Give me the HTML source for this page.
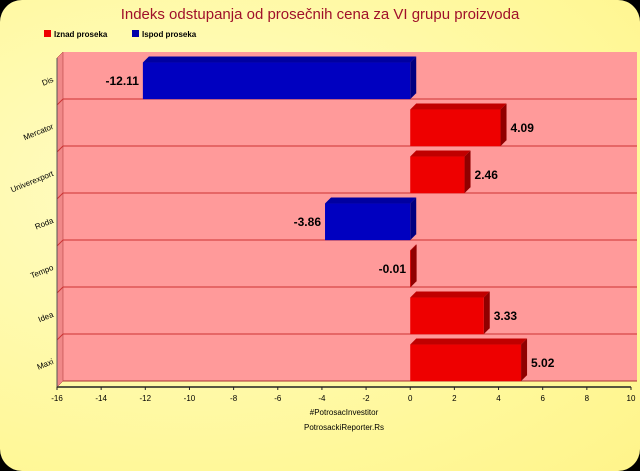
<!DOCTYPE html>
<html><head><meta charset="utf-8"><style>
html,body{margin:0;padding:0;background:#000;}
#wrap{position:relative;width:640px;height:471px;overflow:hidden;background:#000;}
#card{position:absolute;left:0;top:0;width:640px;height:471px;border-radius:22px;background:radial-gradient(ellipse at 30% 40%,#fffcc8,#fff89a 70%,#fff48a);}
text{font-family:"Comic Sans MS","Liberation Sans",sans-serif;}
</style></head><body>
<div id="wrap"><div id="card"></div>
<svg id="chart" width="640" height="471" style="position:absolute;left:0;top:0">
<text x="320" y="19" text-anchor="middle" font-size="15" fill="#a0102a">Indeks odstupanja od prosečnih cena za VI grupu proizvoda</text>
<g>
<rect x="44" y="30" width="7" height="7" fill="#e00"/>
<text x="54" y="37" font-size="8" font-weight="bold">Iznad proseka</text>
<rect x="132" y="30" width="7" height="7" fill="#00a"/>
<text x="142" y="37" font-size="8" font-weight="bold">Ispod proseka</text>
</g>
<g id="plot"></g>
<text x="344" y="415" text-anchor="middle" font-size="8">#PotrosacInvestitor</text>
<text x="344" y="430" text-anchor="middle" font-size="8">PotrosackiReporter.Rs</text>
</svg></div>
<script>
const categories=["Dis","Mercator","Univerexport","Roda","Tempo","Idea","Maxi"];
const values=[-12.11,4.09,2.46,-3.86,-0.01,3.33,5.02];
const ticks=[-16,-14,-12,-10,-8,-6,-4,-2,0,2,4,6,8,10];
const NS="http://www.w3.org/2000/svg";
const g=document.getElementById('plot');
const x0=57,x1=631,xmin=-16,xmax=10,yTop=52,yBot=381,d=6;
const X=v=>x0+(v-xmin)/(xmax-xmin)*(x1-x0);
const rowH=(yBot-yTop)/categories.length;
function mk(t,a){const e=document.createElementNS(NS,t);for(const k in a)e.setAttribute(k,a[k]);g.appendChild(e);return e;}
let e;
e=mk('rect',{x:x0+d,y:yTop,width:x1-x0,height:yBot-yTop,fill:'#ff9a9a'});


e=mk('polygon',{points:`${x0},${yTop+d} ${x0+d},${yTop} ${x0+d},${yBot} ${x0},${yBot+d}`,fill:'#f08888',stroke:'#a33','stroke-width':0.5});


for(let i=1;i<categories.length;i++){
 const y=yTop+i*rowH;
 e=mk('line',{x1:x0+d,y1:y,x2:x1+d,y2:y,stroke:'#c33','stroke-width':1});
 
 
 e=mk('line',{x1:x0,y1:y+d,x2:x0+d,y2:y,stroke:'#c33','stroke-width':1});
 
 
}
e=mk('line',{x1:x0+d,y1:yBot,x2:x1+d,y2:yBot,stroke:'#a33','stroke-width':1});


e=mk('line',{x1:x0,y1:yBot+d,x2:x1,y2:yBot+d,stroke:'#222','stroke-width':1.5});


e=mk('line',{x1:x0,y1:yTop+d,x2:x0,y2:yBot+d,stroke:'#555','stroke-width':1});


ticks.forEach(t=>{
 e=mk('line',{x1:X(t),y1:yBot+d,x2:X(t),y2:yBot+d+3,stroke:'#222'});
 
 
 e=mk('text',{x:X(t),y:yBot+d+14,'text-anchor':'middle','font-size':8});
 e.textContent=t;
 
 
});
categories.forEach((c,i)=>{
 const yc=yTop+i*rowH+rowH/2+d;
 e=mk('text',{x:x0-3,y:yc,'text-anchor':'end','font-size':8,transform:`rotate(-22 ${x0-3} ${yc})`});
 e.textContent=c;
 
 
 const v=values[i];
 const pos=Math.round(v)>=0;
 const a=X(Math.min(0,v)),b=X(Math.max(0,v));
 const by=yTop+i*rowH+rowH*0.16+d*0.5, bh=rowH*0.78;
 const col=pos?'#ee0000':'#0000c0',topc=pos?'#c00000':'#0000a0',sidec=pos?'#900000':'#000080';
 const w=Math.max(b-a,0.6);
 e=mk('polygon',{points:`${a},${by} ${a+d},${by-d} ${a+w+d},${by-d} ${a+w},${by}`,fill:topc});
 
 
 e=mk('polygon',{points:`${a+w},${by} ${a+w+d},${by-d} ${a+w+d},${by+bh-d} ${a+w},${by+bh}`,fill:sidec});
 
 
 e=mk('rect',{x:a,y:by,width:w,height:bh,fill:col});
 
 
 const lx=v>=0?b+d+4:a-4;
 e=mk('text',{x:lx,y:by+bh/2+4,'text-anchor':v>=0?'start':'end','font-size':12,'font-weight':'bold'});
 e.textContent=v.toFixed(2);
 
 
});
</script>
</body></html>
